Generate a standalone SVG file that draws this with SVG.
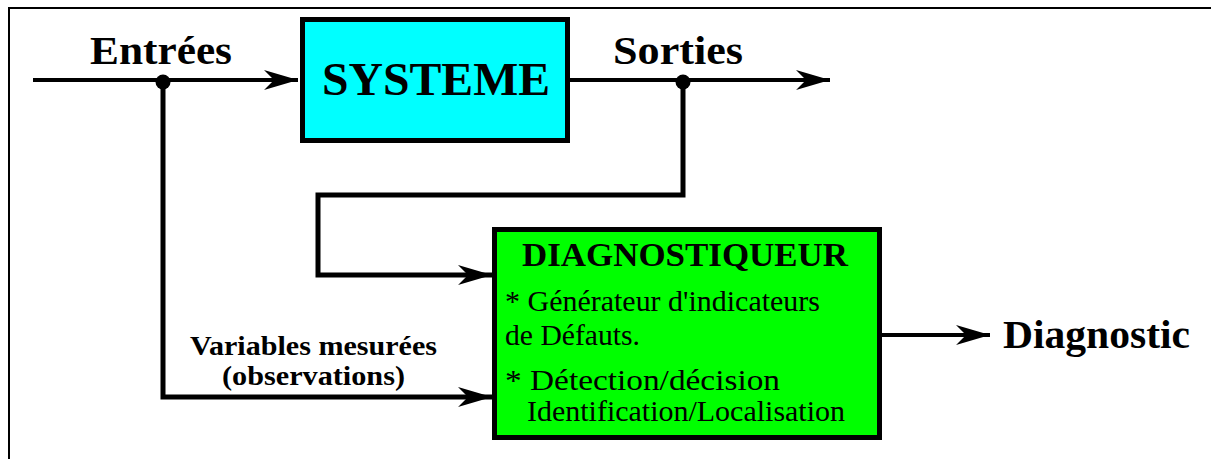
<svg xmlns="http://www.w3.org/2000/svg" width="1211" height="459" viewBox="0 0 1211 459">
  <style>
    .wire { fill: none; stroke: #000; stroke-width: 5; stroke-linejoin: miter; stroke-linecap: butt; }
    .thin { stroke-width: 4; }
    .box { stroke: #000; stroke-width: 5; }
    .lbl { font-family: "Liberation Serif", "Times New Roman", serif; fill: #000; }
    .b { font-weight: bold; }
  </style>
  <defs>
    <marker id="arrow" markerUnits="userSpaceOnUse" markerWidth="40" markerHeight="24" viewBox="-36 -12 38 24" refX="0" refY="0" orient="auto">
      <path d="M0,0 L-34,-10 L-24,0 L-34,10 Z" fill="#000"/>
    </marker>
  </defs>

  <!-- page frame -->
  <path d="M9,459 V8 H1211" fill="none" stroke="#000" stroke-width="2"/>

  <!-- connectors -->
  <g id="connectors">
    <path class="wire thin" d="M33,80 H298" marker-end="url(#arrow)"/>
    <path class="wire thin" d="M570,80 H830" marker-end="url(#arrow)"/>
    <path class="wire" d="M683,82 V195 H318 V275 H492" marker-end="url(#arrow)"/>
    <path class="wire" d="M163,82 V397 H492" marker-end="url(#arrow)"/>
    <path class="wire thin" d="M882,335 H990" marker-end="url(#arrow)"/>
    <circle cx="163" cy="82" r="7.5" fill="#000"/>
    <circle cx="683" cy="82" r="7.5" fill="#000"/>
  </g>

  <!-- signal labels -->
  <g id="labels">
    <text class="lbl b" x="90" y="64" font-size="39" textLength="142" lengthAdjust="spacingAndGlyphs">Entrées</text>
    <text class="lbl b" x="613" y="64" font-size="39" textLength="130" lengthAdjust="spacingAndGlyphs">Sorties</text>
    <text class="lbl b" x="190" y="355" font-size="28" textLength="247" lengthAdjust="spacingAndGlyphs">Variables mesurées</text>
    <text class="lbl b" x="222" y="385" font-size="28" textLength="183" lengthAdjust="spacingAndGlyphs">(observations)</text>
    <text class="lbl b" x="1003" y="348" font-size="39" textLength="187" lengthAdjust="spacingAndGlyphs">Diagnostic</text>
  </g>

  <!-- process block -->
  <g id="systeme">
    <rect class="box" x="302.5" y="19.5" width="265" height="121" fill="#00ffff"/>
    <text class="lbl b" x="322" y="95" font-size="47" textLength="228" lengthAdjust="spacingAndGlyphs">SYSTEME</text>
  </g>

  <!-- diagnosis block -->
  <g id="diagnostiqueur">
    <rect class="box" x="494.5" y="229.5" width="385" height="208" fill="#00ff00"/>
    <text class="lbl b" x="522" y="266" font-size="34" textLength="326" lengthAdjust="spacingAndGlyphs">DIAGNOSTIQUEUR</text>
    <text class="lbl" x="505" y="311" font-size="29" textLength="315" lengthAdjust="spacingAndGlyphs">* Générateur d'indicateurs</text>
    <text class="lbl" x="505" y="345" font-size="29" textLength="135" lengthAdjust="spacingAndGlyphs">de Défauts.</text>
    <text class="lbl" x="505" y="390" font-size="29" textLength="275" lengthAdjust="spacingAndGlyphs">* Détection/décision</text>
    <text class="lbl" x="527" y="421" font-size="29" textLength="318" lengthAdjust="spacingAndGlyphs">Identification/Localisation</text>
  </g>
</svg>
